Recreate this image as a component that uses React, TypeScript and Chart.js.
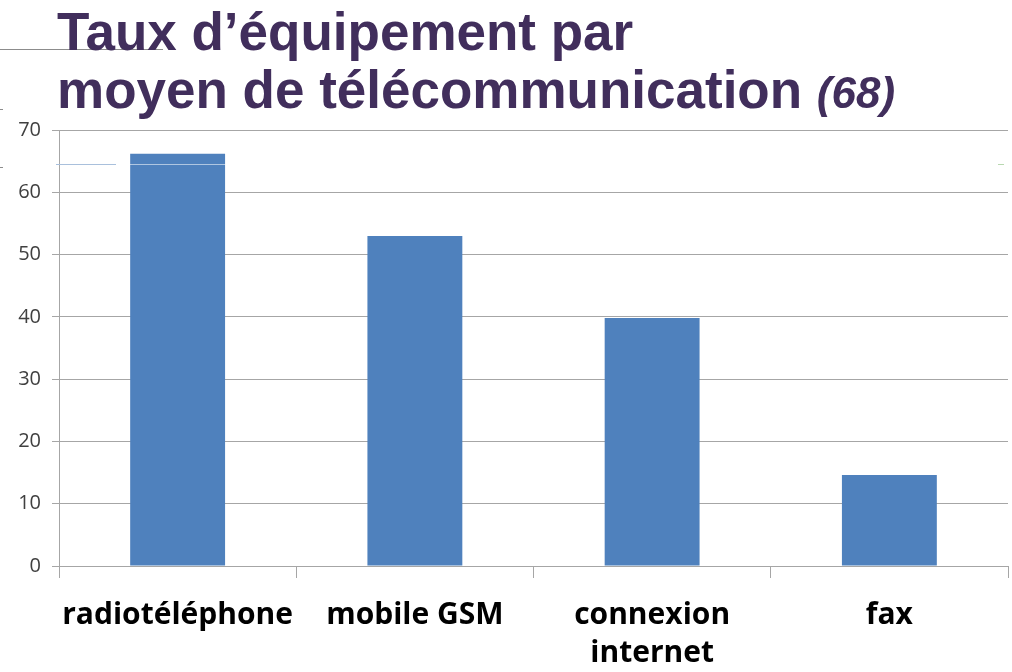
import React, { useEffect, useRef } from "react";
import { Chart, registerables } from "chart.js";

Chart.register(...registerables);

const categories: (string | string[])[] = ["radiotéléphone", "mobile GSM", ["connexion", "internet"], "fax"];
const values: number[] = [66.2, 53.0, 39.8, 14.6];
const yTicks: number[] = [0, 10, 20, 30, 40, 50, 60, 70];

export default function App() {
  const ref = useRef<HTMLCanvasElement>(null);
  useEffect(() => {
    if (!ref.current) return;
    const chart = new Chart(ref.current, {
      type: "bar",
      data: {
        labels: categories,
        datasets: [
          {
            data: values,
            backgroundColor: "#4f81bd",
            borderWidth: 0,
            barPercentage: 0.4,
            categoryPercentage: 1,
          },
        ],
      },
      options: {
        animation: false,
        responsive: false,
        maintainAspectRatio: false,
        layout: { padding: { top: 130, right: 4, left: 0, bottom: 0 } },
        plugins: { legend: { display: false }, tooltip: { enabled: false }, title: { display: false } },
        scales: {
          x: {
            grid: { display: true, drawOnChartArea: false, drawTicks: true, tickLength: 12, color: "#a6a6a6", offset: true },
            border: { color: "#a6a6a6" },
            ticks: {
              color: "#000000",
              font: { family: "'Open Sans', sans-serif", size: 30, weight: "bold", lineHeight: 1.25 },
              padding: 19,
              maxRotation: 0,
              autoSkip: false,
            },
            afterFit: (s: any) => { s.height = 106; },
          },
          y: {
            min: 0,
            max: 70,
            afterBuildTicks: (s: any) => { s.ticks = yTicks.map((v) => ({ value: v })); },
            grid: { color: "#a6a6a6", tickLength: 7 },
            border: { color: "#a6a6a6" },
            ticks: {
              color: "#404040",
              font: { family: "'Open Sans', sans-serif", size: 20 },
              padding: 11,
            },
            afterFit: (s: any) => { s.width = 59; },
          },
        },
      },
    });
    return () => chart.destroy();
  }, []);

  const titleStyle: React.CSSProperties = {
    position: "absolute",
    left: 57,
    fontFamily: "'Liberation Sans', Arial, sans-serif",
    fontWeight: "bold",
    fontSize: 53,
    color: "#412e5c",
    whiteSpace: "nowrap",
    lineHeight: 1,
    margin: 0,
  };

  return (
    <div style={{ position: "fixed", left: 0, top: 0, width: 1012, height: 672, background: "#ffffff", overflow: "hidden" }}>
      <canvas ref={ref} width={1012} height={672} style={{ position: "absolute", left: 0, top: 0 }} />
      <div style={{ position: "absolute", left: 0, top: 49, width: 163, height: 1, background: "#8c8c8c" }} />
      <div style={{ position: "absolute", left: 0, top: 109, width: 3, height: 1, background: "#8c8c8c" }} />
      <div style={{ position: "absolute", left: 0, top: 167, width: 3, height: 1, background: "#8c8c8c" }} />
      <div style={{ position: "absolute", left: 56, top: 164, width: 950, height: 1, background: "rgba(255,255,255,0.55)" }} />
      <div style={{ position: "absolute", left: 56, top: 164, width: 60, height: 1, background: "#a9c0dc" }} />
      <div style={{ position: "absolute", left: 998, top: 164, width: 6, height: 1, background: "#b8d8b0" }} />
      <div style={{ ...titleStyle, top: 5 }}>Taux d’équipement par</div>
      <div style={{ ...titleStyle, top: 63 }}>
        moyen de télécommunication <span style={{ fontStyle: "italic", fontSize: 44 }}>(68)</span>
      </div>
    </div>
  );
}
